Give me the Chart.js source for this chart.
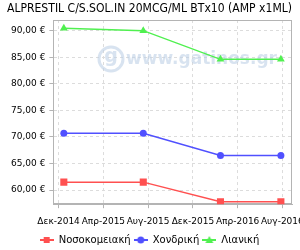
<!DOCTYPE html>
<html>
<head>
<meta charset="utf-8">
<script src="https://cdn.jsdelivr.net/npm/chart.js@4"></script>
<style>
  html, body { margin: 0; padding: 0; background: #fff; }
  #wrap { width: 300px; height: 250px; position: relative; }
</style>
</head>
<body>
<div id="wrap"><canvas id="chart"></canvas></div>
<script>
const dates = ['2014-12-15', '2015-07-18', '2016-02-15', '2016-07-27'];
const hospital = [61.5, 61.5, 57.8, 57.8];
const wholesale = [70.7, 70.7, 66.5, 66.5];
const retail = [90.45, 90.0, 84.6, 84.6];
const monthLabels = ['Δεκ-2014', 'Απρ-2015', 'Αυγ-2015', 'Δεκ-2015', 'Απρ-2016', 'Αυγ-2016'];
const seriesNames = ['Νοσοκομειακή', 'Χονδρική', 'Λιανική'];
const colors = ['#ff5050', '#5050ff', '#50f050'];
const shapes = ['rect', 'circle', 'triangle'];

// months since 1 Dec 2014
function monthPos(d) {
  const [y, m, day] = d.split('-').map(Number);
  return (y - 2014) * 12 + (m - 12) + (day - 1) / 30;
}
function points(vals) {
  return vals.map((v, i) => ({ x: monthPos(dates[i]), y: v }));
}

// legend icon: short line with the marker in the middle
function legendIcon(color, shape) {
  const c = document.createElement('canvas');
  c.width = 14; c.height = 10;
  const g = c.getContext('2d');
  g.strokeStyle = color;
  g.fillStyle = color;
  g.lineWidth = 2;
  g.beginPath(); g.moveTo(0, 5); g.lineTo(14, 5); g.stroke();
  g.beginPath();
  if (shape === 'rect') g.rect(4, 2, 6, 6);
  else if (shape === 'circle') g.arc(7, 5, 3.5, 0, Math.PI * 2);
  else { g.moveTo(7, 1); g.lineTo(11, 8); g.lineTo(3, 8); g.closePath(); }
  g.fill();
  return c;
}
const icons = colors.map((c, i) => legendIcon(c, shapes[i]));

const frame = {
  id: 'frame',
  beforeDatasetsDraw(chart) {
    const { ctx, chartArea: a } = chart;
    ctx.save();
    // watermark
    ctx.strokeStyle = 'rgba(190,208,230,0.6)';
    ctx.fillStyle = 'rgba(190,208,230,0.6)';
    ctx.lineWidth = 3;
    ctx.beginPath(); ctx.arc(111, 59, 12, 0, Math.PI * 2); ctx.stroke();
    ctx.font = 'bold 19px "DejaVu Sans"';
    ctx.textAlign = 'center';
    ctx.textBaseline = 'middle';
    ctx.fillText('g', 111, 57);
    ctx.textAlign = 'left';
    ctx.font = 'bold 17px "DejaVu Sans"';
    ctx.fillText('www.gatinos.gr', 126, 60);
    // plot frame
    ctx.strokeStyle = '#b4b4b4';
    ctx.lineWidth = 1;
    ctx.strokeRect(Math.round(a.left) + 0.5, Math.round(a.top) + 0.5, Math.round(a.width) - 1, Math.round(a.height) - 1);
    ctx.restore();
  }
};

new Chart(document.getElementById('chart'), {
  type: 'line',
  data: {
    datasets: [hospital, wholesale, retail].map((vals, i) => ({
      label: seriesNames[i],
      data: points(vals),
      borderColor: colors[i],
      backgroundColor: colors[i],
      borderWidth: 1.5,
      pointStyle: shapes[i],
      pointRadius: [5, 3.5, 4.5][i],
      pointBorderWidth: 0,
      tension: 0
    }))
  },
  options: {
    responsive: true,
    maintainAspectRatio: false,
    animation: false,
    layout: { padding: { right: 8, left: 7, bottom: -5 } },
    scales: {
      x: {
        type: 'linear',
        min: -0.47,
        max: 20.86,
        afterFit(scale) { scale.paddingLeft = 0; scale.paddingRight = 0; scale.height -= 3; },
        ticks: {
          stepSize: 4,
          autoSkip: false,
          maxRotation: 0,
          minRotation: 0,
          includeBounds: false,
          padding: 8,
          color: '#000',
          font: { family: 'DejaVu Sans', size: 9 },
          callback: v => monthLabels[v / 4] ?? ''
        },
        grid: { color: '#dcdcdc', tickLength: 4, tickColor: '#b4b4b4' },
        border: { color: '#b4b4b4', dash: [3, 3] }
      },
      y: {
        min: 57.35,
        max: 92,
        ticks: {
          stepSize: 5,
          includeBounds: false,
          padding: 4,
          color: '#000',
          font: { family: 'DejaVu Sans', size: 9 },
          callback: v => v.toFixed(2).replace('.', ',') + ' €'
        },
        grid: { color: '#dcdcdc', tickLength: 4, tickColor: '#b4b4b4' },
        border: { color: '#b4b4b4', dash: [3, 3] }
      }
    },
    plugins: {
      title: {
        display: true,
        text: 'ALPRESTIL C/S.SOL.IN 20MCG/ML BTx10 (AMP x1ML)',
        color: '#000',
        font: { family: 'DejaVu Sans', size: 11.7, weight: 'normal' },
        padding: { top: 2, bottom: 4 }
      },
      legend: {
        position: 'bottom',
        labels: {
          usePointStyle: true,
          pointStyleWidth: 14,
          padding: 3,
          color: '#000',
          font: { family: 'DejaVu Sans', size: 10 },
          generateLabels(chart) {
            return chart.data.datasets.map((ds, i) => ({
              text: ds.label,
              pointStyle: icons[i],
              fillStyle: ds.borderColor,
              strokeStyle: ds.borderColor,
              lineWidth: 0,
              hidden: false,
              datasetIndex: i,
              fontColor: '#000'
            }));
          }
        }
      },
      tooltip: { enabled: false }
    }
  },
  plugins: [frame]
});
</script>
</body>
</html>
